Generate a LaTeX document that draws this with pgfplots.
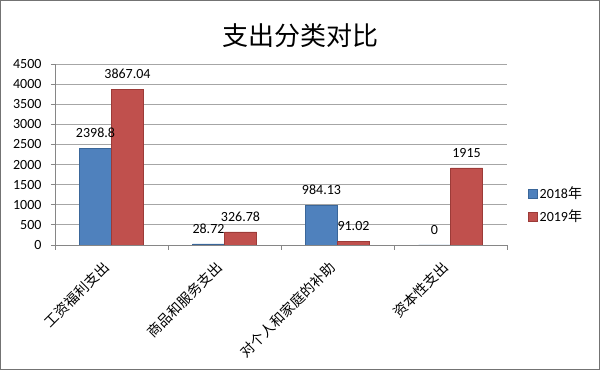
\documentclass[border=0pt]{standalone}
\usepackage{fontspec}
\setmainfont{Carlito}
\newfontfamily\cjk{Noto Sans CJK SC}
\usepackage{pgfplots}
\pgfplotsset{compat=1.18}
\definecolor{sblue}{HTML}{4F81BD}
\definecolor{sbluee}{HTML}{3A6699}
\definecolor{sred}{HTML}{C0504D}
\definecolor{srede}{HTML}{9C3B38}
\definecolor{gridc}{HTML}{A6A6A6}
\definecolor{axc}{HTML}{868686}
\begin{document}
\begin{tikzpicture}
\useasboundingbox (0bp,0bp) rectangle (600bp,370bp);
\fill[white] (0bp,0bp) rectangle (600bp,370bp);
\draw[color=black!55, line width=1.2bp] (0.6bp,0.6bp) rectangle (599.4bp,369.4bp);
\node[font=\cjk\fontsize{26bp}{28bp}\selectfont] at (300bp,334bp) {支出分类对比};
\begin{axis}[
  at={(55bp,125bp)}, anchor=south west, scale only axis,
  width=452bp, height=181bp,
  ybar=0pt, bar width=32bp,
  xmin=-0.5, xmax=3.5, ymin=0, ymax=4500,
  ytick={0,500,...,4500},
  xtick={0,1,2,3},
  xticklabels={工资福利支出,商品和服务支出,对个人和家庭的补助,资本性支出},
  minor xtick={-0.5,0.5,1.5,2.5,3.5},
  every major x tick/.append style={draw=none},
  tick align=outside,
  major tick length=4bp, minor tick length=5bp,
  tick style={axc, line width=0.8bp},
  axis x line*=bottom, axis y line*=left,
  axis line style={axc, line width=0.8bp, -},
  ymajorgrids, grid style={gridc, line width=0.8bp},
  xticklabel style={font=\cjk\fontsize{14bp}{15bp}\selectfont, rotate=45, anchor=north east, inner sep=1bp, xshift=-14bp},
  yticklabel style={font=\fontsize{14bp}{16bp}\selectfont, /pgf/number format/1000 sep={}, /pgf/number format/assume math mode=true, xshift=-6bp},
  point meta=explicit symbolic,
  nodes near coords,
  every node near coord/.append style={font=\fontsize{14bp}{16bp}\selectfont, text=black, yshift=7bp},
  legend style={at={(1.04,0.22)}, anchor=west, draw=none, fill=none, font=\fontsize{14bp}{16bp}\selectfont, row sep=6bp, legend cell align=left},
  legend image code/.code={\draw[#1] (0bp,-4.5bp) rectangle (9bp,4.5bp);},
]
\addplot[fill=sblue, draw=sbluee] coordinates {(0,2398.8)[2398.8] (1,28.72)[28.72] (2,984.13)[984.13] (3,0)[0]};
\addplot[fill=sred, draw=srede] coordinates {(0,3867.04)[3867.04] (1,326.78)[326.78] (2,91.02)[91.02] (3,1915)[1915]};
\legend{2018{\cjk 年}, 2019{\cjk 年}}
\end{axis}
\end{tikzpicture}
\end{document}
